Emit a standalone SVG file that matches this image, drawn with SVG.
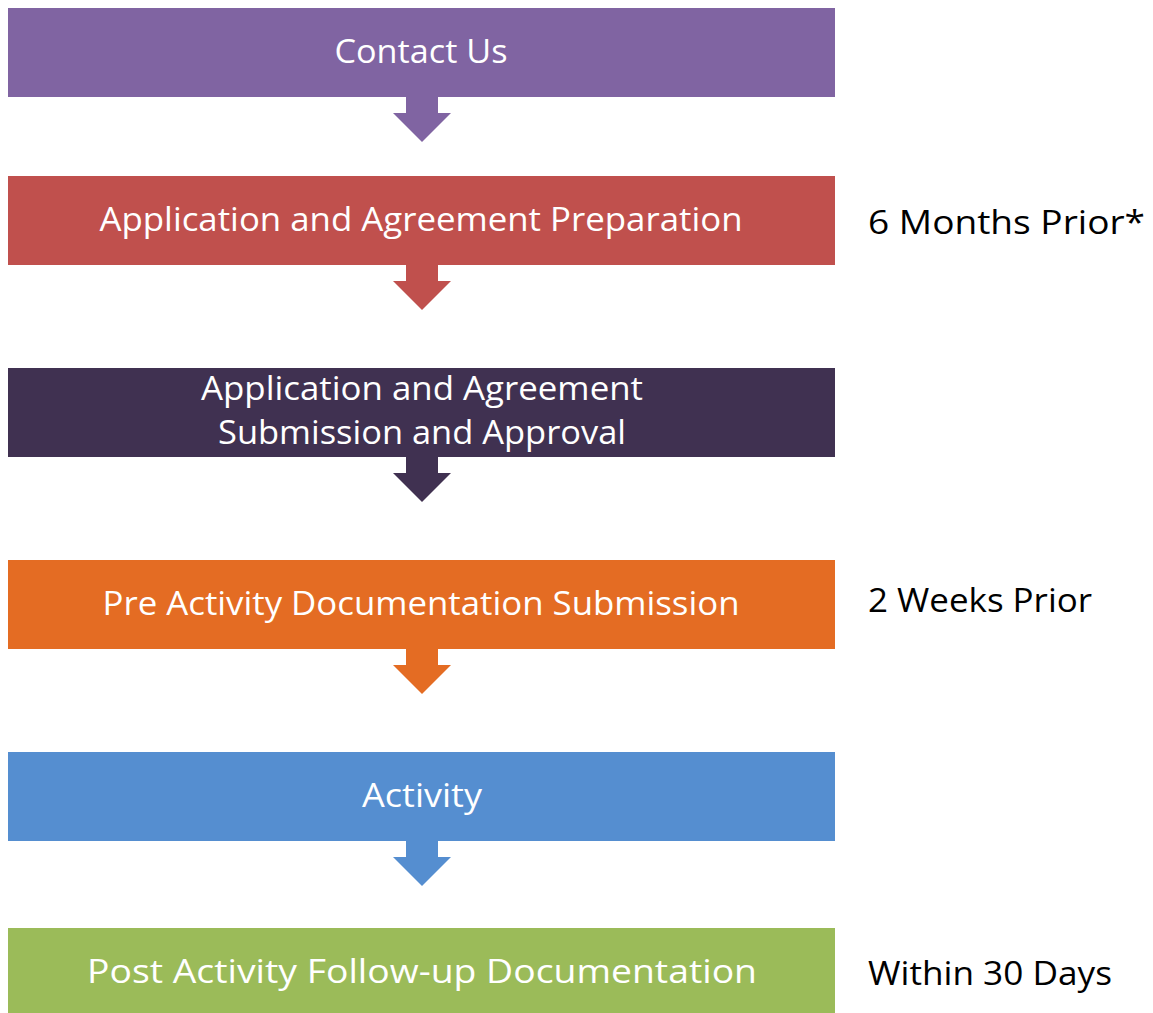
<svg xmlns="http://www.w3.org/2000/svg" width="1153" height="1013" viewBox="0 0 1153 1013">
<style>
.lbl{font-family:"Open Sans","Liberation Sans",sans-serif;font-size:33px;fill:#fff;text-anchor:middle}
.side{font-family:"Open Sans","Liberation Sans",sans-serif;font-size:33px;fill:#000}
</style>
<defs>
<path id="arr" d="M406,0 H438 V16 H451 L422,45 L393,16 H406 Z"/>
</defs>
<rect width="1153" height="1013" fill="#fff"/>
<g id="connectors">
<use href="#arr" y="97" fill="#8064A2"/>
<use href="#arr" y="265" fill="#C0504D"/>
<use href="#arr" y="457" fill="#403151"/>
<use href="#arr" y="649" fill="#E46C23"/>
<use href="#arr" y="841" fill="#558ED0"/>
</g>
<g id="n1"><rect x="8" y="8" width="827" height="89" fill="#8064A2"/><text class="lbl" x="421" y="63" textLength="173" lengthAdjust="spacingAndGlyphs">Contact Us</text></g>
<g id="n2"><rect x="8" y="176" width="827" height="89" fill="#C0504D"/><text class="lbl" x="421" y="231" textLength="643" lengthAdjust="spacingAndGlyphs">Application and Agreement Preparation</text></g>
<g id="n3"><rect x="8" y="368" width="827" height="89" fill="#403151"/><text class="lbl" x="422" y="400" textLength="442" lengthAdjust="spacingAndGlyphs">Application and Agreement</text><text class="lbl" x="422" y="444" textLength="408" lengthAdjust="spacingAndGlyphs">Submission and Approval</text></g>
<g id="n4"><rect x="8" y="560" width="827" height="89" fill="#E46C23"/><text class="lbl" x="421" y="615" textLength="637" lengthAdjust="spacingAndGlyphs">Pre Activity Documentation Submission</text></g>
<g id="n5"><rect x="8" y="752" width="827" height="89" fill="#558ED0"/><text class="lbl" x="422" y="807" textLength="120" lengthAdjust="spacingAndGlyphs">Activity</text></g>
<g id="n6"><rect x="8" y="928" width="827" height="85" fill="#9BBB59"/><text class="lbl" x="422" y="983" textLength="670" lengthAdjust="spacingAndGlyphs">Post Activity Follow-up Documentation</text></g>
<g id="notes">
<text class="side" x="868" y="234" textLength="277" lengthAdjust="spacingAndGlyphs">6 Months Prior*</text>
<text class="side" x="868" y="612" textLength="224" lengthAdjust="spacingAndGlyphs">2 Weeks Prior</text>
<text class="side" x="868" y="985" textLength="244" lengthAdjust="spacingAndGlyphs">Within 30 Days</text>
</g>
</svg>
